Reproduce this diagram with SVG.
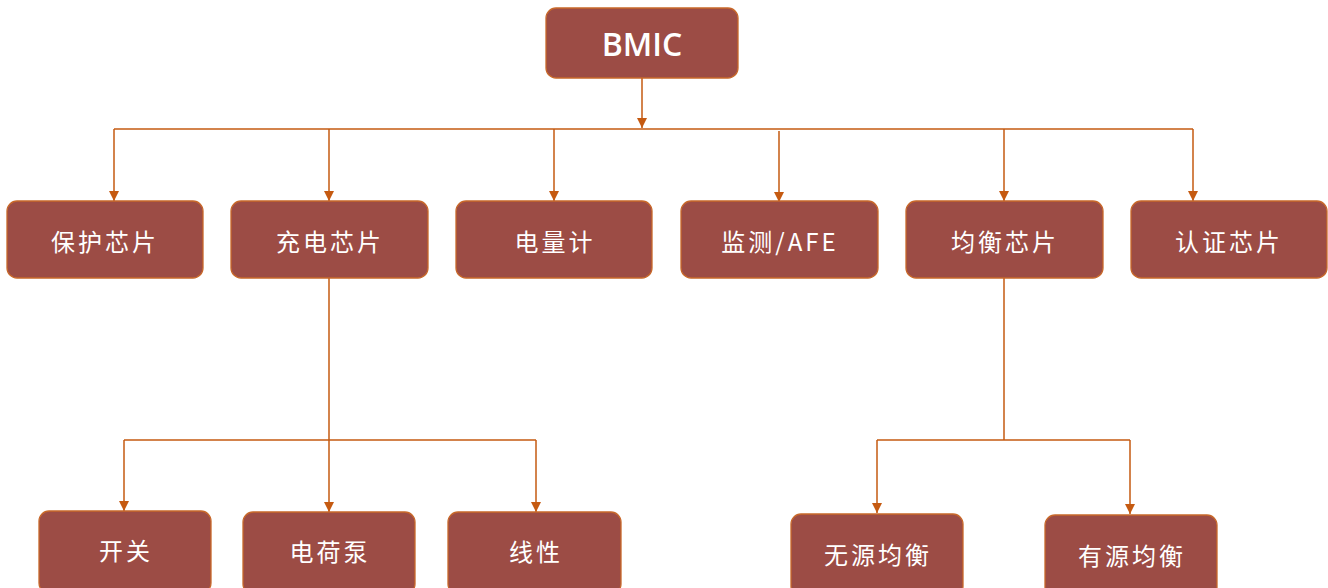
<svg xmlns="http://www.w3.org/2000/svg" width="1328" height="588" viewBox="0 0 1328 588">
<style>
.box{fill:#9C4C45;stroke:#C8682A;stroke-width:1.3}
.t{fill:#fff;font-family:"Noto Sans CJK SC","Noto Sans",sans-serif;font-size:24px;text-anchor:middle;dominant-baseline:central;letter-spacing:3px}
.b{fill:#fff;font-family:"Open Sans","Noto Sans",sans-serif;font-size:32px;font-weight:600;text-anchor:middle;dominant-baseline:central}
.c{fill:none;stroke:#C55A11;stroke-width:1.5}
</style>
<defs>
<marker id="ar2" viewBox="0 0 10 10" refX="10" refY="5" markerWidth="10" markerHeight="10" markerUnits="userSpaceOnUse" orient="auto"><path d="M0,0L10,5L0,10z" fill="#C55A11"/></marker>
</defs>
<g id="connectors">
<path class="c" d="M642,78V128" stroke="#E0A070" marker-end="url(#ar2)"/>
<path class="c" d="M114,129H1193"/>
<path class="c" d="M114,129V201" marker-end="url(#ar2)"/>
<path class="c" d="M329,129V201" marker-end="url(#ar2)"/>
<path class="c" d="M554,129V201" marker-end="url(#ar2)"/>
<path class="c" d="M779,131V202" marker-end="url(#ar2)"/>
<path class="c" d="M1004,129V201" marker-end="url(#ar2)"/>
<path class="c" d="M1193,129V201" marker-end="url(#ar2)"/>
<path class="c" d="M329,278V440"/>
<path class="c" d="M124,440H536"/>
<path class="c" d="M124,440V511" marker-end="url(#ar2)"/>
<path class="c" d="M329,440V512" marker-end="url(#ar2)"/>
<path class="c" d="M536,440V512" marker-end="url(#ar2)"/>
<path class="c" d="M1004,278V440"/>
<path class="c" d="M877,440H1130"/>
<path class="c" d="M877,440V513" marker-end="url(#ar2)"/>
<path class="c" d="M1130,440V514" marker-end="url(#ar2)"/>
</g>
<g id="n-bmic"><rect class="box" x="546" y="8" width="192" height="70" rx="10"/><text class="b" x="642" y="43">BMIC</text></g>
<g id="n-protect"><rect class="box" x="7" y="201" width="196" height="77" rx="10"/><text class="t" x="105" y="240">保护芯片</text></g>
<g id="n-charge"><rect class="box" x="231" y="201" width="197" height="77" rx="10"/><text class="t" x="330" y="240">充电芯片</text></g>
<g id="n-gauge"><rect class="box" x="456" y="201" width="196" height="77" rx="10"/><text class="t" x="555" y="240">电量计</text></g>
<g id="n-afe"><rect class="box" x="681" y="201" width="197" height="77" rx="10"/><text class="t" x="780" y="240">监测/AFE</text></g>
<g id="n-balance"><rect class="box" x="906" y="201" width="197" height="77" rx="10"/><text class="t" x="1005" y="240">均衡芯片</text></g>
<g id="n-auth"><rect class="box" x="1131" y="201" width="196" height="77" rx="10"/><text class="t" x="1229" y="240">认证芯片</text></g>
<g id="n-switch"><rect class="box" x="39" y="511" width="172" height="82" rx="10"/><text class="t" x="126" y="549">开关</text></g>
<g id="n-pump"><rect class="box" x="243" y="512" width="172" height="82" rx="10"/><text class="t" x="330" y="550">电荷泵</text></g>
<g id="n-linear"><rect class="box" x="448" y="512" width="173" height="82" rx="10"/><text class="t" x="536" y="550">线性</text></g>
<g id="n-passive"><rect class="box" x="791" y="514" width="172" height="82" rx="10"/><text class="t" x="878" y="553">无源均衡</text></g>
<g id="n-active"><rect class="box" x="1045" y="515" width="172" height="82" rx="10"/><text class="t" x="1132" y="554">有源均衡</text></g>
</svg>
